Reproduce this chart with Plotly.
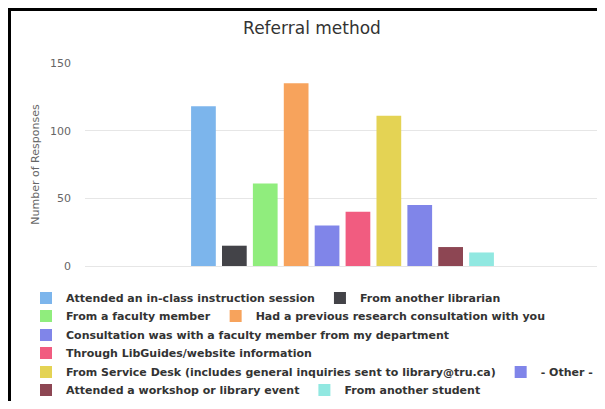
import plotly.graph_objects as go

# series (one category, one bar per answer)
methods = [
    "Attended an in-class instruction session",
    "From another librarian",
    "From a faculty member",
    "Had a previous research consultation with you",
    "Consultation was with a faculty member from my department",
    "Through LibGuides/website information",
    "From Service Desk (includes general inquiries sent to library@tru.ca)",
    "- Other -",
    "Attended a workshop or library event",
    "From another student",
]
responses = [118, 15, 61, 135, 30, 40, 111, 45, 14, 10]
colors = ["#7cb5ec", "#434348", "#90ed7d", "#f7a35c", "#8085e9",
          "#f15c80", "#e4d354", "#8085e9", "#8d4653", "#91e8e1"]
category = ["Referral method"]
y_ticks = [0, 50, 100, 150]

# which legend row each series sits in
legend_rows = [1, 1, 2, 2, 3, 4, 5, 5, 6, 6]

# the page has an 8px body margin, so the figure is drawn 8px in from the corner;
# keep it short enough that the page does not scroll
OFF = 8
W, H = 605 - OFF, 409 - 2 * OFF
L, R, T = 85 - OFF, 5, 63 - OFF
B = H - (266 - OFF)
pw, ph = W - L - R, H - T - B


def px_x(p):
    # page pixel -> paper fraction
    return (p - OFF - L) / pw


def px_y(p):
    return (H - B - (p - OFF)) / ph


fig = go.Figure()
for name, val, col, row in zip(methods, responses, colors, legend_rows):
    fig.add_trace(go.Bar(
        x=category, y=[val], name=name,
        marker=dict(color=col, line=dict(width=0)),
        legend="legend" if row == 1 else f"legend{row}",
    ))

legend_font = dict(family="DejaVu Sans", size=11, color="#333333", weight="bold")
row_centers = [298, 316, 335, 353, 372, 390]
legends = {}
for i, yc in enumerate(row_centers, start=1):
    key = "legend" if i == 1 else f"legend{i}"
    legends[key] = dict(
        orientation="h", x=px_x(26), xanchor="left",
        y=px_y(yc), yanchor="middle",
        font=legend_font, bgcolor="rgba(0,0,0,0)",
        borderwidth=0, traceorder="normal",
    )

fig.update_layout(
    width=W, height=H,
    margin=dict(l=L, r=R, t=T, b=B, autoexpand=False),
    paper_bgcolor="white", plot_bgcolor="white",
    barmode="group", bargap=0.4, bargroupgap=0.2,
    title=dict(text="Referral method", x=px_x(312), xref="paper", xanchor="center",
               y=1 - (28 - OFF) / H, yanchor="middle",
               font=dict(family="DejaVu Sans", size=17, color="#333333")),
    xaxis=dict(showticklabels=False, showgrid=False, zeroline=False, showline=False),
    yaxis=dict(range=[0, 150], tickvals=y_ticks, showgrid=True, gridcolor="#e6e6e6",
               gridwidth=1, zeroline=True, zerolinecolor="#e6e6e6", zerolinewidth=1,
               ticklabelstandoff=13,
               tickfont=dict(family="DejaVu Sans", size=11, color="#666666"),
               title=dict(text="Number of Responses", standoff=8,
                          font=dict(family="DejaVu Sans", size=11, color="#666666"))),
    showlegend=True,
    **legends,
)

# black frame along the top and left of the chart
fig.add_shape(type="line", xref="paper", yref="paper",
              x0=px_x(9.5), x1=px_x(620), y0=px_y(9.5), y1=px_y(9.5),
              line=dict(color="black", width=3))
fig.add_shape(type="line", xref="paper", yref="paper",
              x0=px_x(9.5), x1=px_x(9.5), y0=px_y(8), y1=px_y(420),
              line=dict(color="black", width=3))

fig.write_html("out.html")
